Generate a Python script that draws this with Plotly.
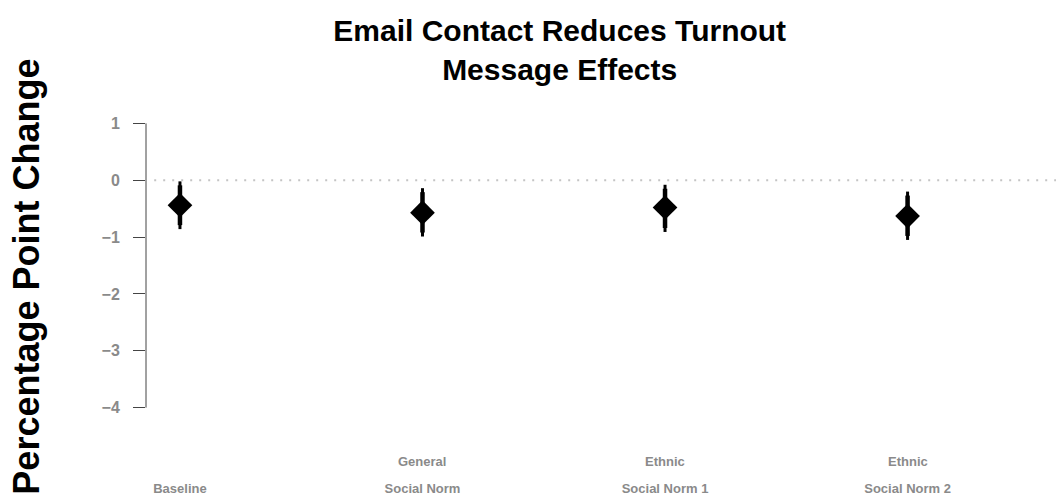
import plotly.graph_objects as go

# treatment arms (label split over two lines as in the original)
arms = [1, 2, 3, 4]
label_top = ["", "General", "Ethnic", "Ethnic"]
label_bottom = ["Baseline", "Social Norm", "Social Norm 1", "Social Norm 2"]

# point estimates and confidence intervals (percentage points)
estimate = [-0.44, -0.57, -0.48, -0.63]
ci95_low = [-0.86, -0.99, -0.91, -1.05]
ci95_high = [-0.02, -0.14, -0.08, -0.20]
ci90_low = [-0.79, -0.92, -0.84, -0.98]
ci90_high = [-0.09, -0.21, -0.15, -0.27]

y_ticks = [1, 0, -1, -2, -3, -4]
y_ticktext = ["1", "0", "\u22121", "\u22122", "\u22123", "\u22124"]

FONT = "Liberation Sans, Arial, Helvetica, sans-serif"
GREY = "#8a8a8a"

fig = go.Figure()

# zero reference line, dotted, runs to the right edge
fig.add_shape(type="line", xref="paper", yref="y", x0=0.009, x1=1, y0=0, y1=0,
              line=dict(color="#c4c4c4", width=2, dash="2px,7px"))
# range-frame y axis line (only from -4 to 1)
fig.add_shape(type="line", xref="paper", yref="y", x0=0, x1=0, y0=-4, y1=1,
              line=dict(color="#444444", width=1))

for i, xv in enumerate(arms):
    fig.add_scatter(x=[xv, xv], y=[ci95_low[i], ci95_high[i]], mode="lines",
                    line=dict(color="black", width=3), showlegend=False, hoverinfo="skip")
    fig.add_scatter(x=[xv, xv], y=[ci90_low[i], ci90_high[i]], mode="lines",
                    line=dict(color="black", width=4.5), showlegend=False, hoverinfo="skip")

fig.add_scatter(x=arms, y=estimate, mode="markers",
                marker=dict(symbol="diamond", size=19, color="black"),
                showlegend=False)

for xv, t in zip(arms, label_top):
    if t:
        fig.add_annotation(x=xv, xref="x", y=-0.138, yref="paper", text=t,
                           showarrow=False, yanchor="middle",
                           font=dict(family=FONT, size=13, color=GREY, weight="bold"))

fig.add_annotation(x=-0.157, xref="paper", y=0.4625, yref="paper",
                   text="Percentage Point Change", textangle=-90, showarrow=False,
                   font=dict(family=FONT, size=36, color="black", weight="bold"))

fig.update_layout(
    width=1056, height=500,
    margin=dict(l=146, r=0, t=112, b=81),
    plot_bgcolor="white", paper_bgcolor="white",
    title=dict(text="Email Contact Reduces Turnout<br>Message Effects",
               x=0.53, xanchor="center", y=0.919, yanchor="top",
               font=dict(family=FONT, size=30, color="black", weight="bold")),
    xaxis=dict(range=[0.86, 4.612], tickvals=arms, ticktext=label_bottom,
               showline=False, showgrid=False, zeroline=False, ticks="",
               automargin=False, ticklabelstandoff=60,
               tickfont=dict(family=FONT, size=13, color=GREY, weight="bold")),
    yaxis=dict(range=[-4.2, 1.2], tickvals=y_ticks, ticktext=y_ticktext,
               showline=False, showgrid=False, zeroline=False, automargin=False,
               ticks="outside", ticklen=12, tickcolor="#444444", tickwidth=1,
               ticklabelstandoff=10,
               tickfont=dict(family=FONT, size=16, color=GREY, weight="bold")),
)

# drop the browser's default 8px body margin so the figure sits at the corner
fig.write_html("out.html", config={"displayModeBar": False},
               post_script="document.body.style.margin='0';")
